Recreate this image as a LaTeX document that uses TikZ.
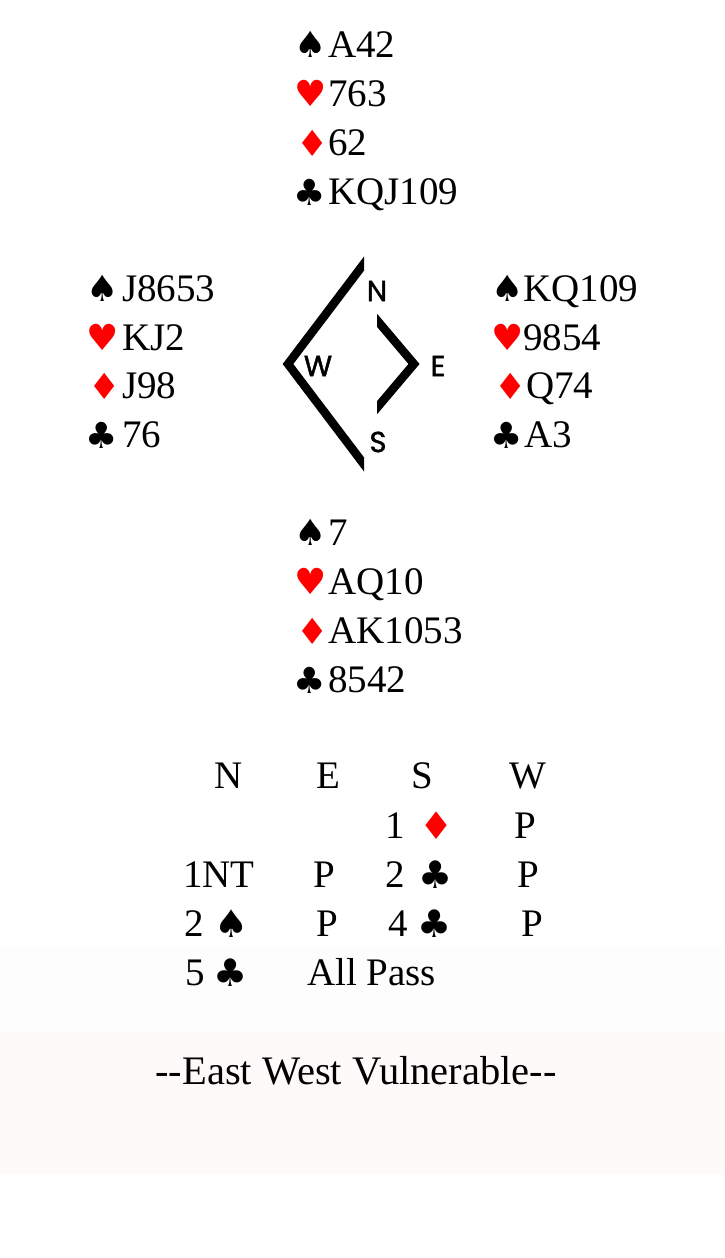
\documentclass[tikz,border=0pt]{standalone}
\usepackage{fontspec}
\setmainfont{Liberation Serif}
\newfontfamily\suitfont{DejaVu Sans}
\newfontfamily\compfont[FakeBold=1.5]{Poppins}
\definecolor{suitred}{HTML}{FF0000}
\definecolor{bandgrey}{HTML}{FDFDFD}
\definecolor{bandpink}{HTML}{FEFAF9}
\begin{document}
\begin{tikzpicture}[x=1pt,y=-1pt,
  txt/.style={inner sep=0pt,anchor=base west,font=\fontsize{39}{39}\selectfont},
  ctxt/.style={inner sep=0pt,anchor=base,font=\fontsize{39}{39}\selectfont},
  suit/.style={inner sep=0pt,anchor=base west,font=\suitfont\fontsize{36}{36}\selectfont},
  csuit/.style={inner sep=0pt,anchor=base,font=\suitfont\fontsize{38}{38}\selectfont},
  compass/.style={inner sep=0pt,font=\compfont\fontsize{29}{29}\selectfont},
  chev/.style={line width=8.5pt,line join=miter}]
\useasboundingbox (0,0) rectangle (725,1258);
\fill[white] (0,0) rectangle (725,1258);
\fill[bandgrey] (0,946) rectangle (725,1032);
\fill[bandpink] (0,1032) rectangle (725,1175);

% North
\node[suit] (ns) at (294,57) {♠};
\node[txt] (nst) at (328,57) {A42};
\node[suit,text=suitred] (nh) at (294,106) {♥};
\node[txt] (nht) at (328,106) {763};
\node[suit,text=suitred] (nd) at (296,156) {♦};
\node[txt] (ndt) at (328,155) {62};
\node[suit] (nc) at (293,205) {♣};
\node[txt] (nct) at (328,204) {KQJ109};

% West
\node[suit] (ws) at (86,301) {♠};
\node[txt] (wst) at (122,301) {J8653};
\node[suit,text=suitred] (wh) at (86,350) {♥};
\node[txt] (wht) at (122,350) {KJ2};
\node[suit,text=suitred] (wd) at (88,399) {♦};
\node[txt] (wdt) at (122,398) {J98};
\node[suit] (wc) at (85,448) {♣};
\node[txt] (wct) at (122,447) {76};

% East
\node[suit] (es) at (491,301) {♠};
\node[txt] (est) at (523,301) {KQ109};
\node[suit,text=suitred] (eh) at (491,350) {♥};
\node[txt] (eht) at (523,350) {9854};
\node[suit,text=suitred] (ed) at (494,399) {♦};
\node[txt] (edt) at (526,398) {Q74};
\node[suit] (ec) at (490,448) {♣};
\node[txt] (ect) at (524,447) {A3};

% South
\node[suit] (ss) at (294,545) {♠};
\node[txt] (sst) at (328,545) {7};
\node[suit,text=suitred] (sh) at (294,594) {♥};
\node[txt] (sht) at (328,594) {AQ10};
\node[suit,text=suitred] (sd) at (296,644) {♦};
\node[txt] (sdt) at (328,643) {AK1053};
\node[suit] (sc) at (293,693) {♣};
\node[txt] (sct) at (328,692) {8542};

% Compass
\begin{scope}
\clip (270,250) rectangle (364,480);
\draw[chev] (372,253) -- (288,364) -- (372,475);
\end{scope}
\begin{scope}
\clip (377,300) rectangle (440,430);
\draw[chev] (370,312) -- (414,364) -- (370,416);
\end{scope}
\node[compass] (cn) at (377,291) {N};
\node[compass] (cw) at (318,366) {W};
\node[compass] (ce) at (438,366) {E};
\node[compass] (cs) at (378,442) {S};

% Bidding
\node[ctxt] (hN) at (229,788) {N};
\node[ctxt] (hE) at (328,788) {E};
\node[ctxt] (hS) at (422,788) {S};
\node[ctxt] (hW) at (528,788) {W};

\node[ctxt] (b1a) at (395,838) {1};
\node[csuit,text=suitred] (b1b) at (437,839) {♦};
\node[ctxt] (b1c) at (525,838) {P};

\node[ctxt] (b2a) at (219,887) {1NT};
\node[ctxt] (b2b) at (324,887) {P};
\node[ctxt] (b2c) at (395,887) {2};
\node[csuit] (b2d) at (436,888) {♣};
\node[ctxt] (b2e) at (528,887) {P};

\node[ctxt] (b3a) at (194,936) {2};
\node[csuit] (b3b) at (232,937) {♠};
\node[ctxt] (b3c) at (327,936) {P};
\node[ctxt] (b3d) at (398,936) {4};
\node[csuit] (b3e) at (435,937) {♣};
\node[ctxt] (b3f) at (532,936) {P};

\node[ctxt] (b4a) at (195,985) {5};
\node[csuit] (b4b) at (231,986) {♣};
\node[txt] (b4c) at (307,985) {All Pass};

\node[ctxt,font=\fontsize{40.5}{40.5}\selectfont] (vul) at (356,1084) {-{}-East West Vulnerable-{}-};
\end{tikzpicture}
\end{document}
